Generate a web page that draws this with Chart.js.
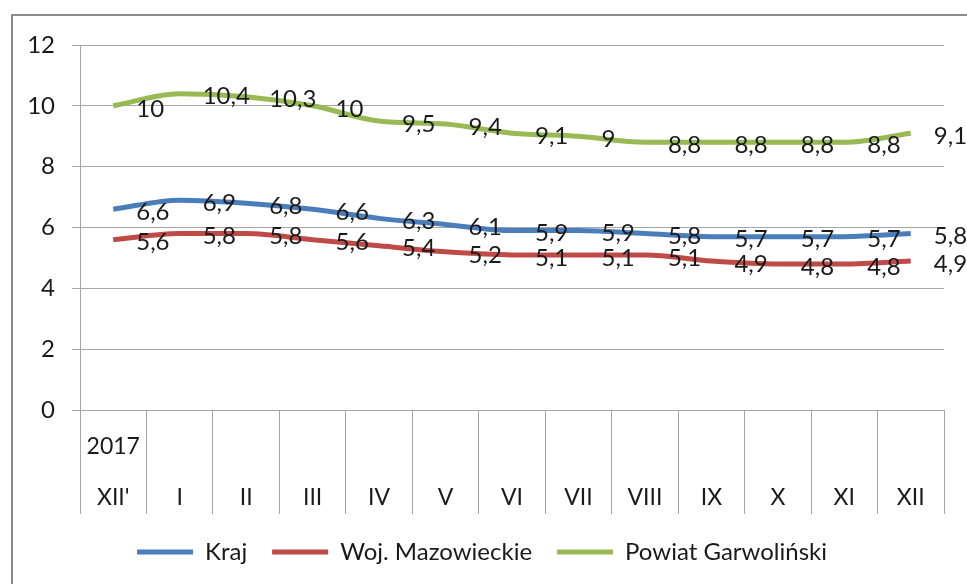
<!DOCTYPE html>
<html>
<head>
<meta charset="utf-8">
<script src="https://cdn.jsdelivr.net/npm/chart.js"></script>
<style>
  html, body { margin: 0; padding: 0; background: #fff; overflow: hidden; }
  #wrap { position: relative; width: 967px; height: 584px; }
  #frame { position: absolute; left: 11px; top: 14px; width: 1000px; height: 600px;
           border-left: 2px solid #8c8c8c; border-top: 2px solid #8c8c8c; }
  canvas { position: absolute; left: 0; top: 0; }
</style>
</head>
<body>
<div id="wrap">
  <div id="frame"></div>
  <canvas id="unemploymentChart" width="967" height="584"></canvas>
</div>
<script>
// month labels (two-level category axis: year over month)
const months = ["XII'", 'I', 'II', 'III', 'IV', 'V', 'VI', 'VII', 'VIII', 'IX', 'X', 'XI', 'XII'];
const years = ['2017', '', '', '', '', '', '', '', '', '', '', '', ''];

// unemployment rate, %
const kraj = [6.6, 6.9, 6.8, 6.6, 6.3, 6.1, 5.9, 5.9, 5.8, 5.7, 5.7, 5.7, 5.8];
const wojMazowieckie = [5.6, 5.8, 5.8, 5.6, 5.4, 5.2, 5.1, 5.1, 5.1, 4.9, 4.8, 4.8, 4.9];
const powiatGarwolinski = [10, 10.4, 10.3, 10, 9.5, 9.4, 9.1, 9, 8.8, 8.8, 8.8, 8.8, 9.1];

const FONT = 'Lato';
const TEXT = '#1a1a1a';
const GRID = '#a6a6a6';

// value labels to the right of each point, comma as decimal mark
const valueLabels = {
  id: 'valueLabels',
  afterDatasetsDraw(chart) {
    const ctx = chart.ctx;
    ctx.save();
    ctx.font = '24px ' + FONT;
    ctx.fillStyle = TEXT;
    ctx.textAlign = 'left';
    ctx.textBaseline = 'middle';
    chart.data.datasets.forEach((ds, i) => {
      chart.getDatasetMeta(i).data.forEach((pt, j) => {
        ctx.fillText(String(ds.data[j]).replace('.', ','), pt.x + 23, pt.y + 3);
      });
    });
    ctx.restore();
  }
};

const line = (label, data, color) => ({
  label: label,
  data: data,
  borderColor: color,
  backgroundColor: color,
  borderWidth: 5,
  pointRadius: 0,
  cubicInterpolationMode: 'monotone'
});

new Chart(document.getElementById('unemploymentChart'), {
  type: 'line',
  data: {
    labels: months,
    datasets: [
      line('Kraj', kraj, '#4a7ebb'),
      line('Woj. Mazowieckie', wojMazowieckie, '#be4b48'),
      line('Powiat Garwoliński', powiatGarwolinski, '#98b954')
    ]
  },
  options: {
    responsive: false,
    animation: false,
    layout: { padding: { left: 20, right: 23, top: 45, bottom: 10 } },
    plugins: {
      tooltip: { enabled: false },
      legend: {
        position: 'bottom',
        labels: {
          usePointStyle: true,
          pointStyle: 'line',
          pointStyleWidth: 56,
          padding: 25,
          color: TEXT,
          font: { family: FONT, size: 24 }
        }
      }
    },
    scales: {
      x: {
        offset: true,
        afterFit: (s) => { s.height = 105; },
        grid: { offset: true, drawOnChartArea: false, tickLength: 104, color: GRID },
        border: { color: GRID },
        ticks: {
          autoSkip: false,
          maxRotation: 0,
          padding: -93,
          color: TEXT,
          font: { family: FONT, size: 23, lineHeight: 51 / 23 },
          callback: (v, i) => [years[i], months[i]]
        }
      },
      y: {
        min: 0,
        max: 12,
        afterFit: (s) => { s.width = 60; },
        grid: { color: GRID, tickLength: 8 },
        border: { color: GRID },
        ticks: {
          stepSize: 2,
          padding: 17,
          color: TEXT,
          font: { family: FONT, size: 24 }
        }
      }
    }
  },
  plugins: [valueLabels]
});
</script>
</body>
</html>
